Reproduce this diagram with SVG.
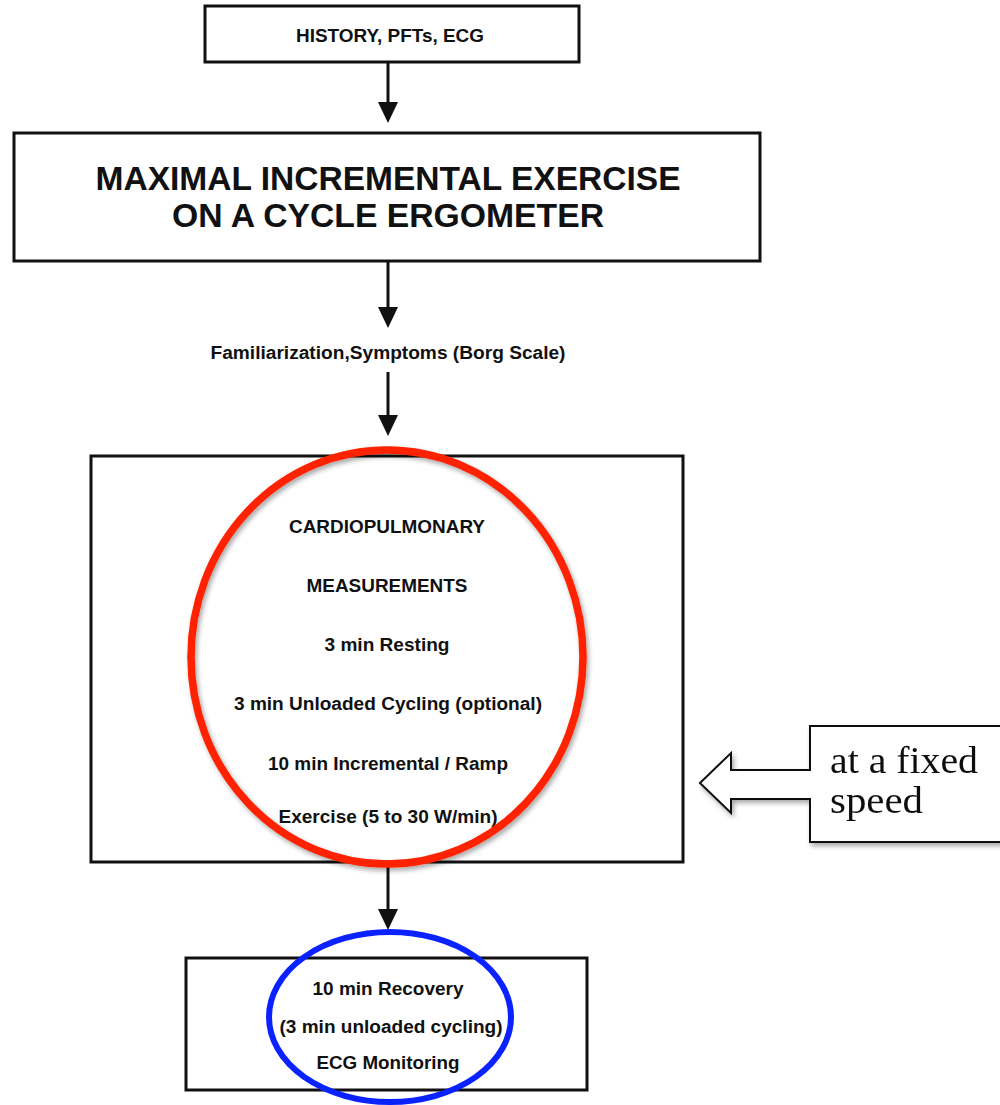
<svg xmlns="http://www.w3.org/2000/svg" width="1000" height="1105" viewBox="0 0 1000 1105">
<defs>
<style>
.box{fill:#fff;stroke:#111;stroke-width:3}
.t{font-family:"Liberation Sans",Arial,sans-serif;font-weight:bold;fill:#111;text-anchor:middle}
.s{font-size:18px}
.big{font-size:33px}
.conn{stroke:#111;stroke-width:3;fill:none}
.serif{font-family:"Liberation Serif","Times New Roman",serif;font-size:37px;fill:#111}
</style>
<filter id="sh" x="-10%" y="-10%" width="130%" height="130%">
<feGaussianBlur in="SourceAlpha" stdDeviation="2.5"/>
<feOffset dx="2" dy="3" result="b"/>
<feComponentTransfer><feFuncA type="linear" slope="0.35"/></feComponentTransfer>
<feMerge><feMergeNode/><feMergeNode in="SourceGraphic"/></feMerge>
</filter>
</defs>
<rect width="1000" height="1105" fill="#fff"/>
<g id="connectors">
<line class="conn" x1="388" y1="62" x2="388" y2="104"/>
<polygon points="378,102 398,102 388,123" fill="#111"/>
<line class="conn" x1="388" y1="261" x2="388" y2="309"/>
<polygon points="378,307 398,307 388,328" fill="#111"/>
<line class="conn" x1="388" y1="372" x2="388" y2="417"/>
<polygon points="378,415 398,415 388,436" fill="#111"/>
<line class="conn" x1="388" y1="862" x2="388" y2="911"/>
<polygon points="378,909 398,909 388,930" fill="#111"/>
</g>
<g id="n1">
<rect class="box" x="205" y="6" width="374" height="56"/>
<text class="t s" x="390" y="42" textLength="188" lengthAdjust="spacingAndGlyphs">HISTORY, PFTs, ECG</text>
</g>
<g id="n2">
<rect class="box" x="14" y="133" width="746" height="128"/>
<text class="t big" x="388" y="190" textLength="585" lengthAdjust="spacingAndGlyphs">MAXIMAL INCREMENTAL EXERCISE</text>
<text class="t big" x="388" y="227" textLength="432" lengthAdjust="spacingAndGlyphs">ON A CYCLE ERGOMETER</text>
</g>
<g id="n3">
<text class="t s" x="388" y="359" textLength="355" lengthAdjust="spacingAndGlyphs">Familiarization,Symptoms (Borg Scale)</text>
</g>
<g id="n4">
<rect class="box" x="91" y="456" width="592" height="406"/>
<text class="t s" x="387" y="533" textLength="196" lengthAdjust="spacingAndGlyphs">CARDIOPULMONARY</text>
<text class="t s" x="387" y="592" textLength="161" lengthAdjust="spacingAndGlyphs">MEASUREMENTS</text>
<text class="t s" x="387" y="651" textLength="125" lengthAdjust="spacingAndGlyphs">3 min Resting</text>
<text class="t s" x="388" y="710" textLength="308" lengthAdjust="spacingAndGlyphs">3 min Unloaded Cycling (optional)</text>
<text class="t s" x="388" y="770" textLength="240" lengthAdjust="spacingAndGlyphs">10 min Incremental / Ramp</text>
<text class="t s" x="388" y="823" textLength="219" lengthAdjust="spacingAndGlyphs">Exercise (5 to 30 W/min)</text>
<ellipse cx="387" cy="657" rx="196" ry="207" fill="none" stroke="#ff2200" stroke-width="7.5" filter="url(#sh)"/>
</g>
<g id="n5">
<rect class="box" x="186" y="958" width="401" height="132"/>
<text class="t s" x="388" y="995" textLength="151" lengthAdjust="spacingAndGlyphs">10 min Recovery</text>
<text class="t s" x="391" y="1033" textLength="223" lengthAdjust="spacingAndGlyphs">(3 min unloaded cycling)</text>
<text class="t s" x="388" y="1069" textLength="143" lengthAdjust="spacingAndGlyphs">ECG Monitoring</text>
<ellipse cx="390" cy="1017" rx="121" ry="85" fill="none" stroke="#0a22ff" stroke-width="6"/>
</g>
<g id="n6" filter="url(#sh)">
<polygon points="1010,726 810,726 810,770 731,770 731,753 700,783 731,813 731,799 810,799 810,842 1010,842" fill="#fff" stroke="#111" stroke-width="2"/>
<text class="serif" x="830" y="773" textLength="148" lengthAdjust="spacingAndGlyphs">at a fixed</text>
<text class="serif" x="830" y="813" textLength="93" lengthAdjust="spacingAndGlyphs">speed</text>
</g>
</svg>
